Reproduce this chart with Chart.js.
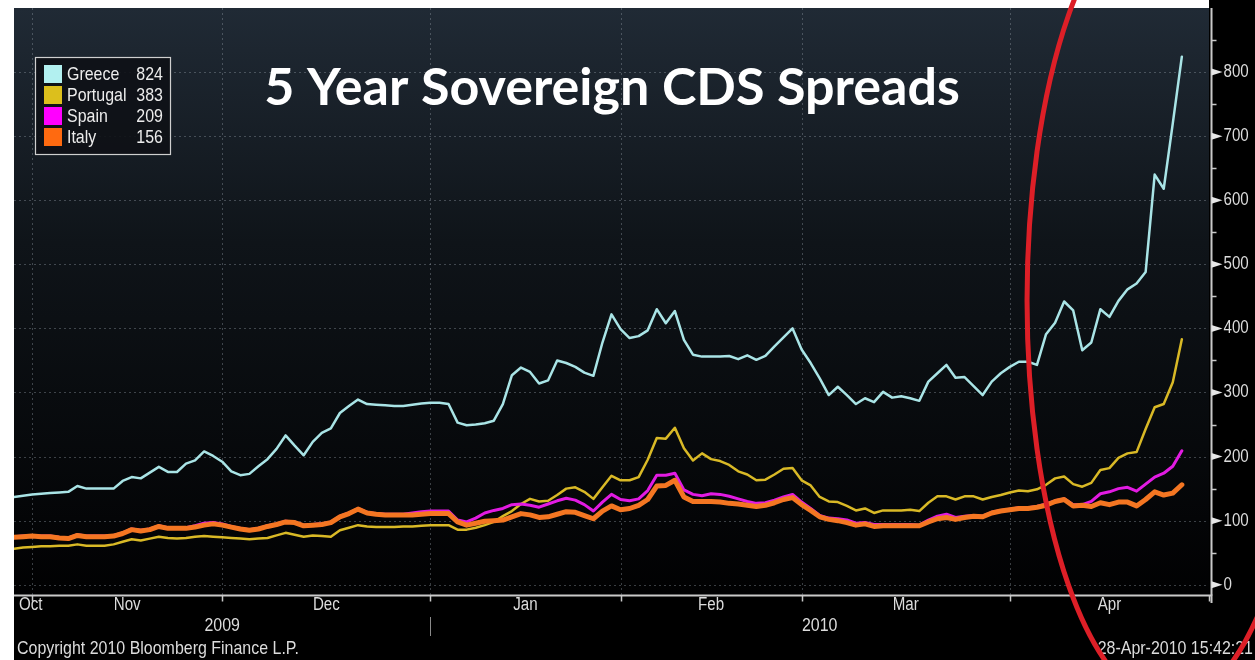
<!DOCTYPE html>
<html>
<head>
<meta charset="utf-8">
<script src="https://cdn.jsdelivr.net/npm/chart.js@4.4.1/dist/chart.umd.min.js"></script>
<style>
  html, body { margin: 0; padding: 0; background: #ffffff; }
  canvas { display: block; }
</style>
</head>
<body>
<canvas id="cds" width="1255" height="660"></canvas>
<script>
// 5-year sovereign CDS spreads (bp), one value per business day,
// 29-Oct-2009 (index 0) to 28-Apr-2010 (index 129).
const seriesNames = ['Greece', 'Portugal', 'Spain', 'Italy'];
const lastValues  = [824, 383, 209, 156];

const greece = [
  137,139,141,142,143,144,145,154,150,150,
  150,150,162,168,166,175,184,176,176,189,
  194,208,201,192,177,171,173,185,196,212,
  233,217,202,223,237,244,268,279,289,282,
  281,280,279,279,281,283,284,284,282,253,
  249,250,252,256,282,327,339,332,314,319,
  350,346,340,331,326,378,422,399,385,388,
  397,430,408,427,382,359,356,356,356,357,
  352,358,351,357,372,386,400,367,346,322,
  296,309,296,282,291,285,301,292,294,291,
  287,317,330,343,323,324,310,296,317,330,
  340,348,348,343,391,409,442,428,366,378,
  430,418,443,461,470,488,640,618,720,824
];
const portugal = [
  56,58,59,60,60,61,61,63,61,61,
  61,63,67,71,69,72,75,73,72,73,
  75,76,75,74,73,72,71,72,73,77,
  81,78,75,77,76,75,85,89,93,91,
  90,90,90,91,91,92,93,93,93,86,
  86,89,93,98,107,115,126,134,130,131,
  140,150,152,145,134,152,170,163,163,168,
  195,229,228,245,213,194,205,196,193,187,
  177,172,163,164,172,181,182,163,155,137,
  130,129,123,116,119,112,116,116,116,117,
  115,128,138,138,133,138,138,133,137,140,
  144,147,146,149,156,166,169,157,153,159,
  179,182,198,205,207,243,277,282,316,383
];
const spain = [
  75,76,77,76,76,74,73,78,76,76,
  76,77,81,87,85,87,92,89,89,89,
  92,96,97,95,91,88,86,88,92,95,
  99,98,93,94,95,98,107,112,119,113,
  111,110,110,110,112,114,115,115,115,101,
  98,104,112,116,119,125,126,124,121,126,
  131,135,132,125,115,129,141,133,131,134,
  147,171,171,174,148,141,139,142,141,138,
  134,130,127,128,132,137,141,129,119,108,
  104,103,101,96,97,94,94,94,94,94,
  93,101,107,110,105,107,108,107,113,116,
  118,120,120,122,126,131,134,125,125,130,
  142,145,150,152,146,157,168,174,185,209
];
const italy = [
  74,75,76,75,75,73,72,77,75,75,
  75,76,80,86,84,86,91,88,88,88,
  90,93,95,93,90,87,85,87,91,94,
  98,97,92,93,94,97,106,111,118,112,
  110,109,109,109,109,110,111,111,111,98,
  93,96,99,100,101,106,111,109,105,106,
  110,114,113,108,103,115,123,117,119,124,
  133,154,155,163,137,130,130,130,129,127,
  126,124,122,124,128,133,136,125,116,106,
  102,100,97,93,95,91,92,92,92,92,
  92,98,103,105,102,105,107,106,112,115,
  117,119,119,121,124,130,133,123,124,122,
  128,125,129,129,123,133,145,140,143,156
];

// Business-day axis: month labels and the index where each month starts
// (first entry is the series start, last entry is the axis end, 3-May-2010).
const monthNames  = ['Oct', 'Nov', 'Dec', 'Jan', 'Feb', 'Mar', 'Apr'];
const monthStarts = [0, 2, 23, 46, 67, 87, 110, 132];
const yearNames   = ['2009', '2010'];
const yearStarts  = [0, 46, 132];
const yTicks      = [0, 100, 200, 300, 400, 500, 600, 700, 800];
const yMinorTicks = [50, 150, 250, 350, 450, 550, 650, 750, 850];

const titleText     = '5 Year Sovereign CDS Spreads';
const copyrightText = 'Copyright 2010 Bloomberg Finance L.P.';
const stampText     = '28-Apr-2010 15:42:21';

const lineColors   = ['#a9e4e6', '#d9b926', '#e21be2', '#f47622'];
const swatchColors = ['#b2f0f0', '#dcbf1c', '#ff00ff', '#ff6a10'];
const lineWidths   = [2.5, 2.5, 3, 5];
const drawOrder    = [4, 3, 2, 1];

const seriesValues = [greece, portugal, spain, italy];
const toPoints = arr => arr.map((v, i) => ({ x: i, y: v }));

const TXT = '#dcdcdc';
const FONT = '"Liberation Sans", Arial, sans-serif';
const NARROW = 0.84;

function narrowText(ctx, text, x, y, align, size, color) {
  ctx.save();
  ctx.font = size + 'px ' + FONT;
  ctx.fillStyle = color || TXT;
  ctx.textBaseline = 'middle';
  ctx.translate(x, y);
  ctx.scale(NARROW, 1);
  ctx.textAlign = align;
  ctx.fillText(text, 0, 0);
  ctx.restore();
}
function narrowWidth(ctx, text, size) {
  ctx.save();
  ctx.font = size + 'px ' + FONT;
  const w = ctx.measureText(text).width * NARROW;
  ctx.restore();
  return w;
}

// Dark terminal backdrop, dotted grid
const backdrop = {
  id: 'backdrop',
  beforeDraw(chart) {
    const { ctx, chartArea: a, width, height } = chart;
    ctx.save();
    ctx.fillStyle = '#ffffff';
    ctx.fillRect(0, 0, width, height);
    ctx.fillStyle = '#000000';
    ctx.fillRect(a.left, a.top, width - a.left, height - a.top);
    ctx.fillRect(a.right, 0, width - a.right, height);
    const g = ctx.createLinearGradient(0, a.top, 0, a.bottom);
    g.addColorStop(0, '#202a35');
    g.addColorStop(0.4, '#0f1419');
    g.addColorStop(1, '#010102');
    ctx.fillStyle = g;
    ctx.fillRect(a.left, a.top, a.right - a.left, a.bottom - a.top);
    ctx.restore();
  },
  beforeDatasetsDraw(chart) {
    const { ctx, chartArea: a, scales: { x, y } } = chart;
    ctx.save();
    ctx.strokeStyle = 'rgba(150,160,172,0.38)';
    ctx.lineWidth = 1;
    ctx.setLineDash([2, 3]);
    yTicks.forEach(v => {
      const py = Math.round(y.getPixelForValue(v)) + 0.5;
      ctx.beginPath(); ctx.moveTo(a.left, py); ctx.lineTo(a.right, py); ctx.stroke();
    });
    monthStarts.slice(1, -1).forEach(d => {
      const px = Math.round(x.getPixelForValue(d)) + 0.5;
      ctx.beginPath(); ctx.moveTo(px, a.top); ctx.lineTo(px, a.bottom); ctx.stroke();
    });
    ctx.restore();
  }
};

// Axes, labels, legend, title and the highlight ellipse
const decorations = {
  id: 'decorations',
  afterDatasetsDraw(chart) {
    const { ctx, chartArea: a, scales: { x, y }, width } = chart;
    ctx.save();

    // axis lines
    const axisX = a.right + 2.5;
    const axisY = a.bottom + 0.5;
    ctx.strokeStyle = '#c9c9c9';
    ctx.lineWidth = 2;
    ctx.beginPath();
    ctx.moveTo(a.left, axisY); ctx.lineTo(axisX, axisY); ctx.lineTo(axisX, a.bottom + 8);
    ctx.stroke();
    ctx.beginPath(); ctx.moveTo(axisX, a.top); ctx.lineTo(axisX, axisY); ctx.stroke();

    // right value axis
    ctx.fillStyle = '#e6e6e6';
    yTicks.forEach(v => {
      const py = y.getPixelForValue(v);
      ctx.beginPath();
      ctx.moveTo(axisX, py - 3.5); ctx.lineTo(axisX + 11, py); ctx.lineTo(axisX, py + 3.5);
      ctx.closePath(); ctx.fill();
      narrowText(ctx, String(v), axisX + 12, py, 'left', 18);
    });
    ctx.strokeStyle = '#c9c9c9';
    ctx.lineWidth = 1.5;
    yMinorTicks.forEach(v => {
      const py = Math.round(y.getPixelForValue(v)) + 0.5;
      ctx.beginPath(); ctx.moveTo(axisX, py); ctx.lineTo(axisX + 5, py); ctx.stroke();
    });

    // month ticks and labels
    ctx.lineWidth = 1.5;
    monthStarts.slice(1).forEach(d => {
      const px = Math.round(x.getPixelForValue(d)) + 0.5;
      ctx.beginPath(); ctx.moveTo(px, axisY); ctx.lineTo(px, axisY + 6); ctx.stroke();
    });
    const monthY = a.bottom + 10;
    monthNames.forEach((m, i) => {
      const x0 = x.getPixelForValue(monthStarts[i]);
      const x1 = x.getPixelForValue(monthStarts[i + 1]);
      const w = narrowWidth(ctx, m, 18);
      const cx = Math.max((x0 + x1) / 2, a.left + 5 + w / 2);
      narrowText(ctx, m, cx, monthY, 'center', 18);
    });

    // year labels with separator
    const yearY = a.bottom + 31;
    yearNames.forEach((yr, i) => {
      const x0 = x.getPixelForValue(yearStarts[i]);
      const x1 = x.getPixelForValue(yearStarts[i + 1]);
      narrowText(ctx, yr, (x0 + x1) / 2, yearY, 'center', 19);
    });
    ctx.strokeStyle = '#8a8a8a';
    ctx.lineWidth = 1;
    yearStarts.slice(1, -1).forEach(d => {
      const px = Math.round(x.getPixelForValue(d)) + 0.5;
      ctx.beginPath(); ctx.moveTo(px, yearY - 9); ctx.lineTo(px, yearY + 10); ctx.stroke();
    });

    // footer
    narrowText(ctx, copyrightText, a.left + 3, a.bottom + 54, 'left', 19);
    narrowText(ctx, stampText, width - 2, a.bottom + 54, 'right', 19);

    // legend box
    const lx = 35.5, ly = 57.5, lw = 135, lh = 97;
    ctx.fillStyle = 'rgba(14,17,22,0.9)';
    ctx.fillRect(lx, ly, lw, lh);
    ctx.strokeStyle = '#cfcfcf';
    ctx.lineWidth = 1.2;
    ctx.strokeRect(lx, ly, lw, lh);
    seriesNames.forEach((name, i) => {
      const top = 65 + i * 21;
      ctx.fillStyle = swatchColors[i];
      ctx.fillRect(44, top, 18, 18);
      narrowText(ctx, name, 67, top + 9.5, 'left', 19, '#ececec');
      narrowText(ctx, String(lastValues[i]), 163, top + 9.5, 'right', 19, '#ececec');
    });

    // title
    ctx.fillStyle = '#ffffff';
    ctx.font = 'bold 52px Lato, "Open Sans", sans-serif';
    ctx.textAlign = 'center';
    ctx.textBaseline = 'alphabetic';
    ctx.fillText(titleText, 612, 105);

    ctx.restore();
  },
  afterDraw(chart) {
    // hand-drawn highlight around the April move, placed in data units
    const { ctx, scales: { x, y } } = chart;
    const cxVal = 127.6, cyVal = 444, rxVal = 15.7, ryVal = 630;
    const cx = x.getPixelForValue(cxVal);
    const cy = y.getPixelForValue(cyVal);
    const rx = x.getPixelForValue(cxVal + rxVal) - cx;
    const ry = y.getPixelForValue(cyVal - ryVal) - cy;
    ctx.save();
    ctx.strokeStyle = '#dd1f27';
    ctx.lineWidth = 5;
    ctx.beginPath();
    ctx.ellipse(cx, cy, rx, ry, 0, 0, Math.PI * 2);
    ctx.stroke();
    ctx.restore();
  }
};

new Chart(document.getElementById('cds'), {
  type: 'line',
  data: {
    datasets: seriesNames.map((name, i) => ({
      label: name,
      data: toPoints(seriesValues[i]),
      borderColor: lineColors[i],
      backgroundColor: lineColors[i],
      borderWidth: lineWidths[i],
      pointRadius: 0,
      tension: 0,
      borderJoinStyle: 'round',
      borderCapStyle: 'round',
      order: drawOrder[i]
    }))
  },
  options: {
    responsive: false,
    animation: false,
    events: [],
    layout: { padding: { left: 14, top: 8, right: 46, bottom: 65 } },
    plugins: { legend: { display: false }, tooltip: { enabled: false } },
    scales: {
      x: { type: 'linear', min: 0, max: 132, display: false },
      y: { type: 'linear', min: -16, max: 900, display: false }
    }
  },
  plugins: [backdrop, decorations]
});
</script>
</body>
</html>
